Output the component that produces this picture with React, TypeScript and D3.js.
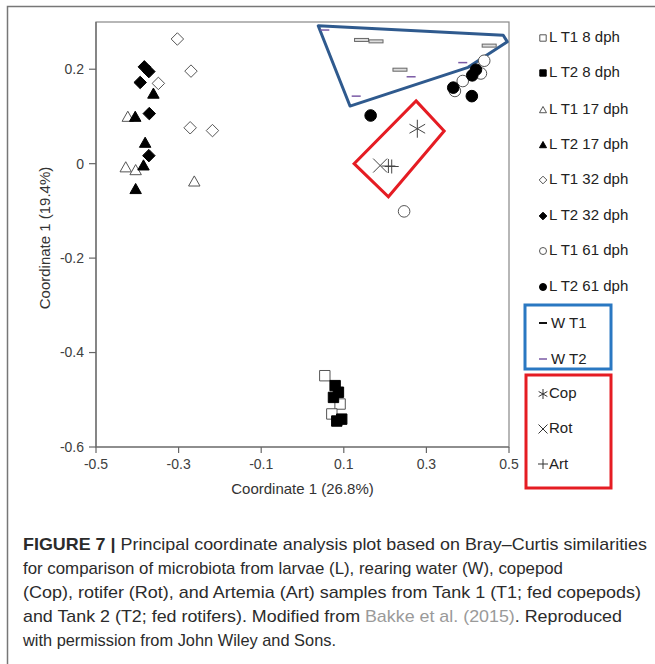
import React from 'react';
import * as d3 from 'd3';

// series (larvae, water, live feed)
const seriesNames = [
  'L T1 8 dph', 'L T2 8 dph', 'L T1 17 dph', 'L T2 17 dph',
  'L T1 32 dph', 'L T2 32 dph', 'L T1 61 dph', 'L T2 61 dph',
];
const lt1_8 = [[0.054, -0.449], [0.091, -0.509], [0.071, -0.530]];
const lt2_8 = [[0.079, -0.470], [0.087, -0.484], [0.075, -0.495], [0.083, -0.545], [0.095, -0.541]];
const lt1_17 = [[-0.423, 0.099], [-0.428, -0.008], [-0.404, -0.014], [-0.262, -0.038]];
const lt2_17 = [[-0.361, 0.148], [-0.405, 0.099], [-0.381, 0.044], [-0.385, -0.004], [-0.404, -0.054]];
const lt1_32 = [[-0.303, 0.264], [-0.270, 0.196], [-0.349, 0.170], [-0.272, 0.076], [-0.218, 0.070]];
const lt2_32 = [[-0.383, 0.205], [-0.372, 0.195], [-0.393, 0.172], [-0.371, 0.106], [-0.372, 0.017]];
const lt1_61 = [[0.440, 0.218], [0.432, 0.191], [0.388, 0.175], [0.369, 0.154], [0.246, -0.101]];
const lt2_61 = [[0.420, 0.199], [0.411, 0.187], [0.365, 0.161], [0.410, 0.143], [0.165, 0.102]];
const wt1 = [[0.143, 0.262], [0.178, 0.259], [0.236, 0.199], [0.452, 0.250]];
const wt2 = [[0.054, 0.283], [0.263, 0.184], [0.388, 0.214], [0.130, 0.143]];
const cop = [[0.278, 0.074]];
const rot = [[0.188, -0.004]];
const art = [[0.208, -0.005], [0.216, -0.006]];

// hand-drawn group outlines
const waterHull = [[0.038, 0.292], [0.486, 0.272], [0.496, 0.258], [0.401, 0.204], [0.115, 0.122]];
const feedBox = [[0.275, 0.133], [0.343, 0.069], [0.208, -0.070], [0.125, 0.0]];

const xTicks = [-0.5, -0.3, -0.1, 0.1, 0.3, 0.5];
const yTicks = [0.2, 0, -0.2, -0.4, -0.6];

const captionLines = [
  'Principal coordinate analysis plot based on Bray–Curtis similarities',
  'for comparison of microbiota from larvae (L), rearing water (W), copepod',
  '(Cop), rotifer (Rot), and Artemia (Art) samples from Tank 1 (T1; fed copepods)',
  'and Tank 2 (T2; fed rotifers). Modified from ',
  'with permission from John Wiley and Sons.',
];

const font = '"Liberation Sans", Arial, sans-serif';

type Kind = 'square' | 'triangle' | 'diamond' | 'circle';

const shapePath = (kind: Kind, r: number) => {
  if (kind === 'square') return `M${-r},${-r}H${r}V${r}H${-r}Z`;
  if (kind === 'triangle') return `M0,${-r * 1.1}L${r * 1.1},${r * 0.85}H${-r * 1.1}Z`;
  if (kind === 'diamond') return `M0,${-r * 1.2}L${r * 1.2},0L0,${r * 1.2}L${-r * 1.2},0Z`;
  return d3.arc()({ innerRadius: 0, outerRadius: r, startAngle: 0, endAngle: 2 * Math.PI }) as string;
};

const larvae: { data: number[][]; kind: Kind; filled: boolean }[] = [
  { data: lt1_8, kind: 'square', filled: false },
  { data: lt2_8, kind: 'square', filled: true },
  { data: lt1_17, kind: 'triangle', filled: false },
  { data: lt2_17, kind: 'triangle', filled: true },
  { data: lt1_32, kind: 'diamond', filled: false },
  { data: lt2_32, kind: 'diamond', filled: true },
  { data: lt1_61, kind: 'circle', filled: false },
  { data: lt2_61, kind: 'circle', filled: true },
];

const Marker = ({ kind, filled, r }: { kind: Kind; filled: boolean; r: number }) => (
  <path d={shapePath(kind, r)} fill={filled ? '#000' : '#fff'} stroke={filled ? '#000' : '#555'} strokeWidth={1} />
);

const asterisk = (s: number) => `M0,${-s}V${s}M${-s * 0.87},${-s * 0.5}L${s * 0.87},${s * 0.5}M${-s * 0.87},${s * 0.5}L${s * 0.87},${-s * 0.5}`;
const cross = (s: number) => `M${-s},${-s}L${s},${s}M${-s},${s}L${s},${-s}`;
const plus = (s: number) => `M${-s},0H${s}M0,${-s}V${s}`;

export default function App() {
  const left = 96, right = 509, top = 22, bottom = 447;
  const x = d3.scaleLinear().domain([-0.5, 0.5]).range([left, right]);
  const y = d3.scaleLinear().domain([-0.6, 0.3]).range([bottom, top]);
  const line = d3.line<number[]>().x((d) => x(d[0])).y((d) => y(d[1])).curve(d3.curveLinearClosed);

  const legendY = [37, 72, 109, 144, 179, 215, 250, 286];
  const lx = 543;

  return (
    <svg width={655} height={664} style={{ position: 'absolute', left: 0, top: 0, background: '#fff' }} fontFamily={font}>
      {/* figure frame */}
      <path d="M7.5,664V6.5H655" fill="none" stroke="#777" strokeWidth={1.5} />

      {/* plot frame */}
      <rect x={left} y={top} width={right - left} height={bottom - top} fill="none" stroke="#888" strokeWidth={1.2} />
      <path d={`M${left},${top}V${bottom}H${right}`} fill="none" stroke="#666" strokeWidth={1.2} />

      {xTicks.map((t) => (
        <g key={'x' + t} transform={`translate(${x(t)},${bottom})`}>
          <line y2={6} stroke="#666" strokeWidth={1.2} />
          <text y={22} textAnchor="middle" fontSize={14} fill="#404040">{t}</text>
        </g>
      ))}
      {yTicks.map((t) => (
        <g key={'y' + t} transform={`translate(${left},${y(t)})`}>
          <line x2={-7} stroke="#666" strokeWidth={1.2} />
          <text x={-12} dy="0.35em" textAnchor="end" fontSize={14} fill="#404040">{t}</text>
        </g>
      ))}
      <text x={(left + right) / 2} y={494} textAnchor="middle" fontSize={15} fill="#333">Coordinate 1 (26.8%)</text>
      <text transform="translate(50,238) rotate(-90)" textAnchor="middle" fontSize={15} fill="#333">Coordinate 1 (19.4%)</text>

      {/* group outlines */}
      <path d={line(waterHull) as string} fill="none" stroke="#2f5a8e" strokeWidth={3} strokeLinejoin="round" />
      <path d={line(feedBox) as string} fill="none" stroke="#e51c23" strokeWidth={3} />

      {/* water samples */}
      {wt1.map((d, i) => (
        <rect key={'w1' + i} x={x(d[0]) - 7} y={y(d[1]) - 1.5} width={14} height={3} fill="#ddd" stroke="#666" strokeWidth={1} />
      ))}
      {wt2.map((d, i) => (
        <line key={'w2' + i} x1={x(d[0]) - 4.5} x2={x(d[0]) + 4.5} y1={y(d[1])} y2={y(d[1])} stroke="#7a5aa5" strokeWidth={1.5} />
      ))}

      {/* larvae */}
      {larvae.map((s, k) =>
        s.data.map((d, i) => (
          <g key={k + '-' + i} transform={`translate(${x(d[0])},${y(d[1])})`}>
            <Marker kind={s.kind} filled={s.filled} r={s.kind === 'circle' ? 5.8 : 5.2} />
          </g>
        ))
      )}

      {/* live feed */}
      {cop.map((d, i) => (
        <path key={'c' + i} transform={`translate(${x(d[0])},${y(d[1])})`} d={asterisk(9)} stroke="#444" strokeWidth={1} fill="none" />
      ))}
      {rot.map((d, i) => (
        <path key={'r' + i} transform={`translate(${x(d[0])},${y(d[1])})`} d={cross(7)} stroke="#444" strokeWidth={1} fill="none" />
      ))}
      {art.map((d, i) => (
        <path key={'a' + i} transform={`translate(${x(d[0])},${y(d[1])})`} d={plus(7)} stroke="#444" strokeWidth={1} fill="none" />
      ))}

      {/* legend */}
      {larvae.map((s, k) => (
        <g key={'lg' + k} transform={`translate(0,${legendY[k]})`}>
          <g transform={`translate(${lx},1)`}>
            <Marker kind={s.kind} filled={s.filled} r={s.kind === 'circle' ? 3.5 : 3.2} />
          </g>
          <text x={lx + 6} dy="0.35em" fontSize={15} fill="#222">{seriesNames[k]}</text>
        </g>
      ))}
      <rect x={525} y={305} width={86} height={64} fill="none" stroke="#2a78c2" strokeWidth={3} />
      <line x1={lx - 4} x2={lx + 4} y1={323} y2={323} stroke="#111" strokeWidth={2} />
      <text x={lx + 8} y={323} dy="0.35em" fontSize={15} fill="#222">W T1</text>
      <line x1={lx - 4} x2={lx + 4} y1={359} y2={359} stroke="#7a5aa5" strokeWidth={1.5} />
      <text x={lx + 8} y={359} dy="0.35em" fontSize={15} fill="#222">W T2</text>

      <rect x={526} y={375} width={85} height={113} fill="none" stroke="#e51c23" strokeWidth={3} />
      <path transform={`translate(${lx},394)`} d={asterisk(5)} stroke="#333" fill="none" strokeWidth={1} />
      <text x={lx + 6} y={393} dy="0.35em" fontSize={15} fill="#222">Cop</text>
      <path transform={`translate(${lx},429)`} d={cross(4.5)} stroke="#333" fill="none" strokeWidth={1} />
      <text x={lx + 6} y={428} dy="0.35em" fontSize={15} fill="#222">Rot</text>
      <path transform={`translate(${lx},464)`} d={plus(5)} stroke="#333" fill="none" strokeWidth={1} />
      <text x={lx + 6} y={464} dy="0.35em" fontSize={15} fill="#222">Art</text>

      {/* caption */}
      <g fontSize={17} fill="#2b2b2b">
        <text x={23} y={550} textLength={624} lengthAdjust="spacingAndGlyphs">
          <tspan fontWeight="bold">FIGURE 7 |</tspan> {captionLines[0]}
        </text>
        <text x={23} y={574} textLength={540} lengthAdjust="spacingAndGlyphs">{captionLines[1]}</text>
        <text x={23} y={598} textLength={618} lengthAdjust="spacingAndGlyphs">{captionLines[2]}</text>
        <text x={23} y={622} textLength={599} lengthAdjust="spacingAndGlyphs">
          {captionLines[3]}<tspan fill="#9a9a9a">Bakke et al. (2015)</tspan>. Reproduced
        </text>
        <text x={23} y={646} textLength={313} lengthAdjust="spacingAndGlyphs">{captionLines[4]}</text>
      </g>
    </svg>
  );
}
